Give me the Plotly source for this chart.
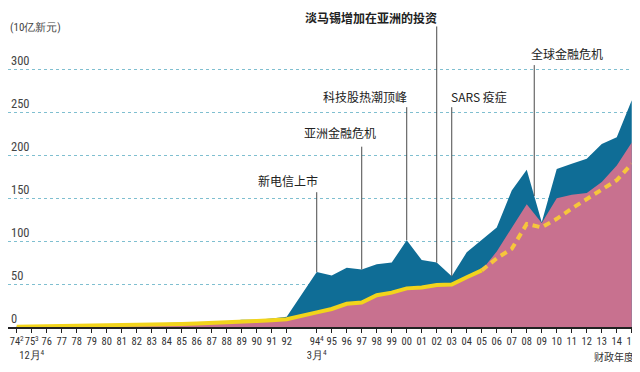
import numpy as np
import plotly.graph_objects as go

# ---------------- data ----------------
years = [1974, 1975, 1976, 1977, 1978, 1979, 1980, 1981, 1982, 1983, 1984,
         1985, 1986, 1987, 1988, 1989, 1990, 1991, 1992,
         1994, 1995, 1996, 1997, 1998, 1999, 2000, 2001, 2002, 2003, 2004,
         2005, 2006, 2007, 2008, 2009, 2010, 2011, 2012, 2013, 2014, 2015]

# total portfolio (blue top)
total = [1.0, 1.2, 1.5, 1.8, 2.0, 2.5, 3.0, 3.5, 4.0, 4.3, 4.5,
         4.8, 5.5, 5.5, 6.5, 8.5, 8.5, 10, 12,
         64, 60, 69, 67, 73, 75, 101, 78, 75, 59, 87,
         101, 116, 159, 183, 122, 184, 190, 196, 213, 221, 264]

# pink component
pink = [0.3, 0.5, 0.7, 0.9, 1.1, 1.4, 1.8, 2.2, 2.6, 3.0, 3.3,
        3.6, 4.0, 4.5, 5.2, 6.0, 7.0, 8.0, 9.0,
        17, 21, 27, 28.5, 37, 40, 45, 46, 49, 49.5, 58,
        66, 88, 115, 143, 121, 150, 154, 156, 169, 188, 215]

# yellow line (solid to FY05, dashed after)
yellow = [0.3, 0.5, 0.7, 0.9, 1.1, 1.4, 1.8, 2.2, 2.6, 3.0, 3.3,
          3.6, 4.0, 4.5, 5.2, 6.0, 7.0, 8.0, 9.0,
          17, 21, 27, 28.5, 37, 40, 45, 46, 49, 49.5, 58,
          66, 80, 91, 120, 116, 126, 138, 149, 159, 171, 190]

tick_text = ["74<sup>2</sup>", "75<sup>3</sup><br>12月<sup>4</sup>", "76", "77", "78",
             "79", "80", "81", "82", "83", "84", "85", "86", "87", "88", "89",
             "90", "91", "92", "94<sup>4</sup><br>3月<sup>4</sup>", "95", "96", "97",
             "98", "99", "00", "01", "02", "03", "04", "05", "06", "07", "08",
             "09", "10", "11", "12", "13", "14", "15"]

y_ticks = [0, 50, 100, 150, 200, 250, 300]

event_years = [1994, 1997, 2000, 2002, 2003, 2008.5]
event_labels = ["新电信上市", "亚洲金融危机", "科技股热潮顶峰",
                "淡马锡增加在亚洲的投资", "SARS 疫症", "全球金融危机"]

# ---------------- layout config ----------------
label_x = [1992.1, 1995.55, 1997.25, 1997.65, 2004.85, 2010.7]
label_y = [171, 227, 268, 360.5, 268, 319]
line_top = [157, 210, 256, 350, 256, 305]
label_bold = [False, False, False, True, False, False]

BLUE = "#0f6d96"
PINK = "#c8718f"
YEL_SOLID = "#f2d41c"
YEL_DASH = "#f6c63c"
NARROW = "Roboto Condensed, Liberation Sans Narrow, Roboto, sans-serif"
CJK = "Noto Sans CJK SC, sans-serif"

fig = go.Figure()
fig.add_trace(go.Scatter(x=years, y=total, mode="lines", fill="tozeroy",
                         fillcolor=BLUE, line=dict(width=0, color=BLUE),
                         hoverinfo="skip", showlegend=False))
fig.add_trace(go.Scatter(x=years, y=pink, mode="lines", fill="tozeroy",
                         fillcolor=PINK, line=dict(width=0, color=PINK),
                         hoverinfo="skip", showlegend=False))

split = years.index(2005)
fig.add_trace(go.Scatter(x=years[:split + 1], y=yellow[:split + 1], mode="lines",
                         line=dict(width=4, color=YEL_SOLID),
                         hoverinfo="skip", showlegend=False))
fig.add_trace(go.Scatter(x=years[split:], y=yellow[split:], mode="lines",
                         line=dict(width=4, color=YEL_DASH, dash="7px,5px"),
                         hoverinfo="skip", showlegend=False))

for ex, lab, lx, ly, lt, bold in zip(event_years, event_labels, label_x,
                                     label_y, line_top, label_bold):
    bottom = float(np.interp(ex, years, total))
    fig.add_shape(type="line", x0=ex, x1=ex, y0=lt, y1=bottom,
                  xref="x", yref="y", line=dict(color="#4a4a4a", width=1))
    txt = f"<b>{lab}</b>" if bold else lab
    fig.add_annotation(x=lx, y=ly, xref="x", yref="y", text=txt,
                       showarrow=False, xanchor="center", yanchor="middle",
                       font=dict(family=CJK, size=12, color="#222222"))

fig.add_annotation(x=0, y=349, xref="paper", yref="y", text="(10亿新元)",
                   showarrow=False, xanchor="left", yanchor="middle",
                   font=dict(family=NARROW, size=11, color="#444444"))
fig.add_annotation(x=628 / 632, y=-29.5 / 319.5, xref="paper", yref="paper",
                   text="财政年度", showarrow=False, xanchor="right",
                   yanchor="middle",
                   font=dict(family=CJK, size=10, color="#333333"))

# page has an 8px body margin: figure sized so it fits the 640x372 window
fig.update_layout(
    width=632, height=356,
    margin=dict(l=0, r=0, t=0, b=36.5),
    paper_bgcolor="white", plot_bgcolor="white",
    xaxis=dict(range=[1973.42, 2015.55], tickvals=years, ticktext=tick_text,
               tickangle=0, automargin=False, ticklabeloverflow="allow",
               showgrid=False, zeroline=False, showline=True,
               linecolor="#222222", linewidth=1.5,
               ticks="outside", ticklen=4, tickcolor="#222222",
               tickfont=dict(family=NARROW, size=10.5, color="#333333")),
    yaxis=dict(range=[0, 371.5], tickvals=y_ticks, ticktext=[str(v) for v in y_ticks],
               ticklabelposition="inside top", automargin=False,
               ticklabeloverflow="allow",
               showgrid=True, gridcolor="#7fbfd0", griddash="dot", gridwidth=1,
               zeroline=False, showline=False, ticks="",
               tickfont=dict(family=NARROW, size=12.5, color="#444444")),
)

fig.write_html("out.html")
